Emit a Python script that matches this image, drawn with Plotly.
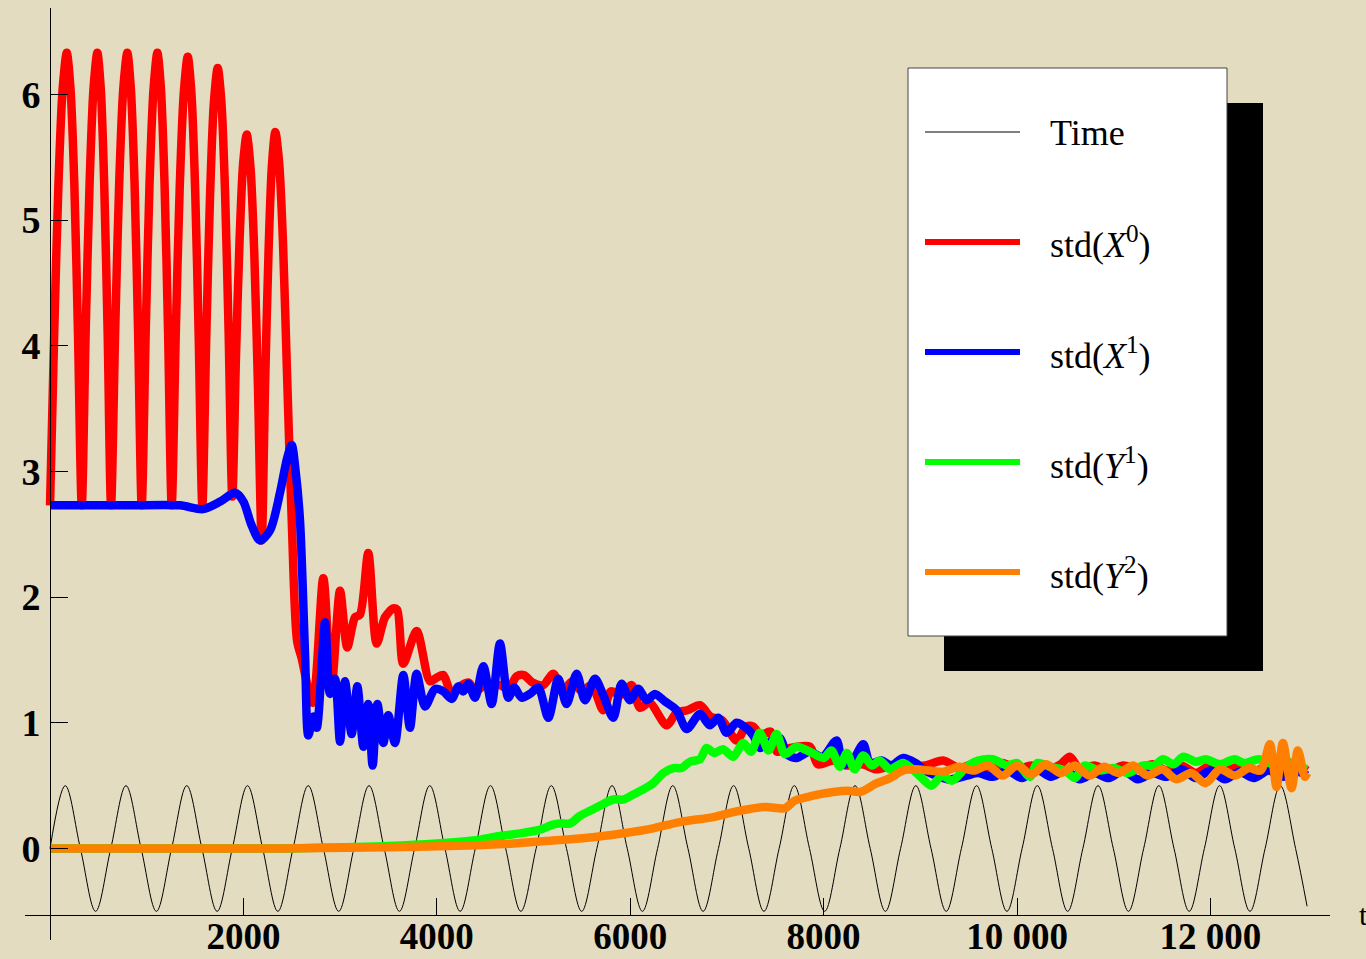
import plotly.graph_objects as go

# ---------------- data ----------------
time_t = [0, 157, 314, 471, 628, 785, 942, 1100, 1257, 1414, 1571, 1728, 1885, 2042, 2199,
          2356, 2513, 2670, 2827, 2985, 3142, 3299, 3456, 3613, 3770, 3927, 4084, 4241, 4398,
          4555, 4712, 4869, 5027, 5184, 5341, 5498, 5655, 5812, 5969, 6126, 6283, 6440, 6597,
          6754, 6912, 7069, 7226, 7383, 7540, 7697, 7854, 8011, 8168, 8325, 8482, 8639, 8796,
          8954, 9111, 9268, 9425, 9582, 9739, 9896, 10053, 10210, 10367, 10524, 10681, 10838,
          10996, 11153, 11310, 11467, 11624, 11781, 11938, 12095, 12252, 12409, 12566, 12723,
          12881, 13000]
time_v = [0, 0.5, 0, -0.5, 0, 0.5, 0, -0.5, 0, 0.5, 0, -0.5, 0, 0.5, 0, -0.5, 0, 0.5, 0, -0.5,
          0, 0.5, 0, -0.5, 0, 0.5, 0, -0.5, 0, 0.5, 0, -0.5, 0, 0.5, 0, -0.5, 0, 0.5, 0, -0.5,
          0, 0.5, 0, -0.5, 0, 0.5, 0, -0.5, 0, 0.5, 0, -0.5, 0, 0.5, 0, -0.5, 0, 0.5, 0, -0.5,
          0, 0.5, 0, -0.5, 0, 0.5, 0, -0.5, 0, 0.5, 0, -0.5, 0, 0.5, 0, -0.5, 0, 0.5, 0, -0.5,
          0, 0.5, 0, -0.46]

x0_t = [0, 43, 87, 130, 173, 212, 251, 289, 328,
        368, 409, 449, 489, 525, 560, 596, 631,
        673, 715, 757, 799, 836, 874, 911, 948,
        989, 1029, 1070, 1110, 1147, 1184, 1221, 1258,
        1300, 1341, 1383, 1424, 1462, 1500, 1537, 1575,
        1615, 1655, 1694, 1734, 1772, 1810, 1847, 1885,
        1922, 1960, 1997, 2034, 2073, 2112, 2150, 2189,
        2224, 2260, 2295, 2330, 2370, 2410, 2450, 2500, 2555, 2600,
        2716, 2826, 2910, 2999, 3074, 3154, 3205, 3291, 3378, 3464,
        3550, 3590, 3653, 3791, 3929, 4000, 4067, 4154, 4239, 4330, 4400, 4500, 4653, 4740,
        4826, 4900, 4990, 5100, 5204, 5300, 5400, 5500, 5600, 5721, 5800, 5900, 6014, 6100,
        6200, 6377, 6480, 6590, 6721, 6830, 6950, 7100, 7200, 7272, 7350, 7450, 7520, 7650,
        7858, 7940, 8100, 8230, 8400, 8550, 8700, 8900, 9050, 9237, 9400, 9550, 9700, 9850,
        10000, 10150, 10300, 10450, 10547, 10650, 10800, 10950, 11100, 11250, 11400, 11550,
        11700, 11850, 12000, 12150, 12300, 12450, 12600, 12750, 12900, 13000]
x0_v = [2.73, 4.10, 5.29, 6.04, 6.33, 6.04, 5.29, 4.10, 2.73,
        4.10, 5.29, 6.04, 6.33, 6.04, 5.29, 4.10, 2.73,
        4.10, 5.29, 6.04, 6.33, 6.04, 5.29, 4.10, 2.73,
        4.10, 5.29, 6.04, 6.33, 6.04, 5.29, 4.10, 2.73,
        4.09, 5.26, 6.01, 6.30, 6.01, 5.26, 4.09, 2.73,
        4.05, 5.20, 5.93, 6.21, 5.94, 5.22, 4.10, 2.80,
        3.89, 4.84, 5.45, 5.68, 5.42, 4.74, 3.68, 2.45,
        3.69, 4.76, 5.44, 5.70, 5.45, 4.80, 3.80, 2.60, 1.65, 1.52,
        1.16, 2.15, 1.28, 2.05, 1.60, 1.84, 1.86, 2.35, 1.63, 1.84,
        1.91, 1.90, 1.47, 1.73, 1.33, 1.36, 1.38, 1.23, 1.29, 1.32, 1.25, 1.30, 1.30, 1.27,
        1.37, 1.38, 1.32, 1.30, 1.39, 1.25, 1.33, 1.25, 1.30, 1.10, 1.25, 1.22, 1.30, 1.12,
        1.16, 0.98, 1.08, 1.10, 1.14, 1.05, 1.02, 0.86, 0.97, 0.97, 0.90, 0.93, 0.77, 0.80,
        0.81, 0.67, 0.70, 0.66, 0.67, 0.63, 0.66, 0.65, 0.66, 0.70, 0.64, 0.67, 0.62, 0.68,
        0.63, 0.66, 0.62, 0.67, 0.73, 0.63, 0.66, 0.62, 0.66, 0.63, 0.67, 0.62,
        0.66, 0.60, 0.66, 0.62, 0.65, 0.61, 0.66, 0.62, 0.66, 0.62]

x1_t = [0, 800, 1344, 1582, 1760, 1913, 2000, 2080, 2171, 2275, 2378, 2450, 2499, 2540, 2585,
        2637, 2671, 2723, 2758, 2844, 2895, 2947, 2999, 3050, 3119, 3178, 3240, 3291, 3336,
        3385, 3447, 3498, 3567, 3653, 3722, 3791, 3878, 3981, 4067, 4154, 4223, 4275, 4326,
        4395, 4481, 4567, 4653, 4739, 4800, 4877, 4963, 5049, 5153, 5256, 5342, 5446, 5532,
        5635, 5721, 5825, 5911, 5997, 6083, 6170, 6256, 6359, 6480, 6584, 6721, 6824, 6910,
        6997, 7100, 7180, 7272, 7341, 7450, 7548, 7620, 7720, 7850, 7990, 8134, 8200, 8300,
        8410, 8480, 8600, 8700, 8823, 8950, 9050, 9168, 9300, 9480, 9600, 9750, 9900, 10050,
        10200, 10350, 10500, 10650, 10800, 10950, 11100, 11250, 11400, 11550, 11700, 11850,
        12000, 12150, 12300, 12450, 12600, 12750, 12900, 13000]
x1_v = [2.73, 2.73, 2.73, 2.70, 2.76, 2.83, 2.76, 2.58, 2.45, 2.53, 2.83, 3.10, 3.21, 3.00,
        2.61, 1.55, 0.90, 1.05, 0.96, 1.80, 1.23, 1.35, 0.85, 1.33, 0.91, 1.29, 0.81, 1.15,
        0.66, 1.15, 0.84, 1.06, 0.84, 1.38, 0.96, 1.39, 1.13, 1.27, 1.25, 1.19, 1.29, 1.25,
        1.31, 1.20, 1.45, 1.15, 1.63, 1.20, 1.28, 1.20, 1.23, 1.28, 1.04, 1.35, 1.15, 1.39,
        1.18, 1.35, 1.22, 1.04, 1.31, 1.18, 1.27, 1.18, 1.23, 1.17, 1.10, 0.95, 1.07, 0.98,
        1.04, 0.92, 1.00, 0.97, 0.90, 0.80, 0.85, 0.88, 0.75, 0.72, 0.77, 0.73, 0.86, 0.67,
        0.70, 0.83, 0.68, 0.70, 0.66, 0.72, 0.68, 0.62, 0.58, 0.55, 0.58, 0.60, 0.57, 0.62,
        0.56, 0.63, 0.57, 0.62, 0.55, 0.60, 0.56, 0.62, 0.55, 0.60, 0.57, 0.63, 0.56, 0.62,
        0.55, 0.61, 0.56, 0.62, 0.57, 0.61, 0.58]

y1_t = [0, 2500, 3000, 3500, 4000, 4446, 4653, 4860, 5067, 5200, 5273, 5380, 5480, 5584, 5687,
        5825, 5930, 6032, 6135, 6239, 6342, 6445, 6530, 6618, 6721, 6790, 6870, 6960, 7066,
        7169, 7250, 7341, 7430, 7514, 7600, 7720, 7858, 8000, 8080, 8169, 8240, 8320, 8410,
        8500, 8580, 8686, 8823, 8990, 9116, 9220, 9330, 9479, 9600, 9750, 9900, 10000, 10133,
        10210, 10350, 10500, 10600, 10700, 10850, 11000, 11150, 11300, 11420, 11510, 11620,
        11720, 11850, 11950, 12100, 12250, 12350, 12500, 12650, 12800, 12925, 13000]
y1_v = [0, 0.0, 0.01, 0.02, 0.04, 0.07, 0.10, 0.12, 0.15, 0.19, 0.20, 0.20, 0.26, 0.30, 0.34,
        0.39, 0.39, 0.43, 0.47, 0.52, 0.60, 0.64, 0.64, 0.69, 0.71, 0.80, 0.76, 0.79, 0.73,
        0.84, 0.77, 0.92, 0.78, 0.91, 0.75, 0.81, 0.77, 0.72, 0.78, 0.65, 0.76, 0.63, 0.74,
        0.66, 0.70, 0.63, 0.68, 0.58, 0.50, 0.58, 0.54, 0.65, 0.70, 0.71, 0.66, 0.68, 0.57,
        0.68, 0.65, 0.62, 0.56, 0.66, 0.62, 0.64, 0.60, 0.66, 0.66, 0.71, 0.67, 0.73, 0.69,
        0.71, 0.67, 0.71, 0.68, 0.71, 0.67, 0.69, 0.65, 0.63]

y2_t = [0, 2400, 3500, 4136, 4790, 5135, 5480, 5825, 6170, 6514, 6859, 7066, 7203, 7400, 7600,
        7700, 7840, 7950, 8100, 8250, 8380, 8550, 8686, 8823, 8950, 9100, 9237, 9400, 9550,
        9700, 9850, 10000, 10150, 10300, 10450, 10600, 10750, 10900, 11050, 11200, 11350,
        11500, 11650, 11800, 11950, 12100, 12250, 12400, 12520, 12615, 12684, 12750, 12839,
        12905, 12977, 13000]
y2_v = [0, 0.0, 0.01, 0.02, 0.04, 0.06, 0.08, 0.11, 0.15, 0.21, 0.25, 0.29, 0.31, 0.33, 0.32,
        0.38, 0.41, 0.43, 0.45, 0.46, 0.45, 0.52, 0.56, 0.62, 0.63, 0.62, 0.61, 0.65, 0.62,
        0.66, 0.58, 0.66, 0.59, 0.67, 0.60, 0.66, 0.58, 0.65, 0.60, 0.66, 0.58, 0.63, 0.55,
        0.60, 0.52, 0.63, 0.58, 0.64, 0.62, 0.83, 0.49, 0.84, 0.48, 0.78, 0.57, 0.60]

x_ticks = [2000, 4000, 6000, 8000, 10000, 12000]
x_tick_text = ["2000", "4000", "6000", "8000", "10 000", "12 000"]
y_ticks = [0, 1, 2, 3, 4, 5, 6]
y_tick_text = ["0", "1", "2", "3", "4", "5", "6"]

legend_labels = ["Time", "std(<i>X</i><sup>0</sup>)", "std(<i>X</i><sup>1</sup>)",
                 "std(<i>Y</i><sup>1</sup>)", "std(<i>Y</i><sup>2</sup>)"]
legend_colors = ["black", "#FF0000", "#0000FF", "#00FF00", "#FF7F00"]

# ---------------- layout geometry ----------------
W, H = 1366, 959
ML, MR, MT, MB = 25, 36, 8, 19
PW, PH = W - ML - MR, H - MT - MB
X_RANGE = [-259, 13237]
Y_RANGE = [-0.728, 6.687]
X_AXIS_AT = -0.53   # y value where the horizontal axis is drawn
Y_AXIS_AT = 0       # x value where the vertical axis is drawn
BG = "#E3DCC0"


def px(x):
    return (x - ML) / PW


def py(y):
    return 1 - (y - MT) / PH


fig = go.Figure()
fig.add_trace(go.Scatter(x=time_t, y=time_v, mode="lines", name="Time",
                         line=dict(color="black", width=1, shape="spline", smoothing=1.0)))
for t, v, c, n in [(x0_t, x0_v, legend_colors[1], "std(X0)"),
                   (x1_t, x1_v, legend_colors[2], "std(X1)"),
                   (y1_t, y1_v, legend_colors[3], "std(Y1)"),
                   (y2_t, y2_v, legend_colors[4], "std(Y2)")]:
    fig.add_trace(go.Scatter(x=t, y=v, mode="lines", name=n,
                             line=dict(color=c, width=8.5, shape="spline", smoothing=0.8)))

xtickfont = dict(family="Liberation Serif", size=37, color="black", weight="bold")
ytickfont = dict(family="Liberation Serif", size=38, color="black", weight="bold")
fig.update_layout(
    width=W, height=H, showlegend=False,
    margin=dict(l=ML, r=MR, t=MT, b=MB, autoexpand=False),
    paper_bgcolor=BG, plot_bgcolor="rgba(0,0,0,0)",
    xaxis=dict(range=X_RANGE, anchor="free", automargin=False,
               position=(X_AXIS_AT - Y_RANGE[0]) / (Y_RANGE[1] - Y_RANGE[0]),
               showline=True, linecolor="black", linewidth=1,
               ticks="inside", ticklen=17, tickcolor="black", tickwidth=1,
               tickvals=x_ticks, ticktext=x_tick_text, tickfont=xtickfont,
               ticklabelstandoff=-12,
               showgrid=False, zeroline=False),
    yaxis=dict(range=Y_RANGE, anchor="free", automargin=False,
               position=(Y_AXIS_AT - X_RANGE[0]) / (X_RANGE[1] - X_RANGE[0]),
               showline=True, linecolor="black", linewidth=1,
               ticks="inside", ticklen=17, tickcolor="black", tickwidth=1,
               tickvals=y_ticks, ticktext=y_tick_text, tickfont=ytickfont,
               ticklabelstandoff=2,
               showgrid=False, zeroline=False),
)

# legend box with drop shadow
shapes = [
    dict(type="rect", xref="paper", yref="paper", x0=px(944), x1=px(1263), y0=py(671), y1=py(103),
         fillcolor="black", line=dict(width=0), layer="above"),
    dict(type="rect", xref="paper", yref="paper", x0=px(908), x1=px(1227), y0=py(636), y1=py(68),
         fillcolor="white", line=dict(color="#444444", width=1), layer="above"),
]
annotations = []
for i, (lab, col) in enumerate(zip(legend_labels, legend_colors)):
    yy = 132 + 110 * i
    shapes.append(dict(type="line", xref="paper", yref="paper", x0=px(925), x1=px(1020),
                       y0=py(yy), y1=py(yy), layer="above",
                       line=dict(color=col, width=1 if i == 0 else 6)))
    annotations.append(dict(xref="paper", yref="paper", x=px(1048), y=py(yy + 1), text=lab,
                            showarrow=False, xanchor="left", yanchor="middle",
                            font=dict(family="Liberation Serif", size=36, color="black")))
annotations.append(dict(xref="paper", yref="paper", x=px(1357), y=py(914), text="t",
                        showarrow=False, xanchor="left", yanchor="middle",
                        font=dict(family="Liberation Serif", size=30, color="black")))
fig.update_layout(shapes=shapes, annotations=annotations)

fig.write_html("out.html", config={"displayModeBar": False},
               post_script="document.body.style.margin='0px';"
                           "document.body.style.overflow='hidden';"
                           "document.body.style.background='" + BG + "';")
